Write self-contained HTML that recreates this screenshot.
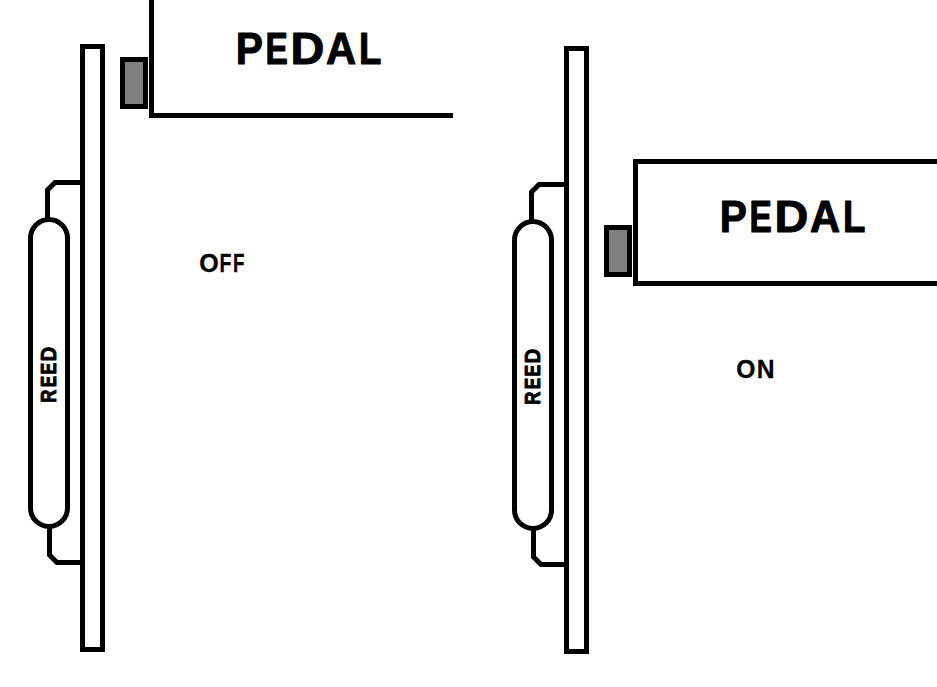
<!DOCTYPE html>
<html>
<head>
<meta charset="utf-8">
<style>
html,body{margin:0;padding:0;background:#fff;}
body{width:937px;height:687px;overflow:hidden;}
svg{display:block;}
text{font-family:"Liberation Sans", sans-serif;font-weight:bold;font-size:100px;fill:#000;stroke:#000;vector-effect:non-scaling-stroke;stroke-linejoin:round;}
</style>
</head>
<body>
<svg width="937" height="687" viewBox="0 0 937 687">
<defs>
<g id="bar">
<g fill="none" stroke="#000" stroke-width="5">
  <rect x="82.5" y="46.5" width="20" height="603"/>
  <rect x="30.5" y="219.5" width="37" height="307" rx="18.5" ry="18.5"/>
  <path d="M47.5,219.5 L47.5,190 L55,182.5 L80,182.5"/>
  <path d="M49.5,526.5 L49.5,555 L57,562.5 L80,562.5"/>
</g>
<text transform="matrix(0 -0.18274 0.21149 0 56.150 402.822)" stroke-width="0.8">R</text>
<text transform="matrix(0 -0.17111 0.21149 0 56.150 387.345)" stroke-width="0.8">E</text>
<text transform="matrix(0 -0.17646 0.21149 0 56.150 374.480)" stroke-width="0.8">E</text>
<text transform="matrix(0 -0.20545 0.21149 0 56.150 361.574)" stroke-width="0.8">D</text>
</g>
<g id="ped">
  <rect x="122.5" y="59.5" width="23" height="47" fill="#7f7f7f" stroke="#000" stroke-width="5"/>
<text transform="matrix(0.40642 0 0 0.45204 235.781 64.400)" stroke-width="1.0">P</text>
<text transform="matrix(0.33509 0 0 0.45204 265.458 64.400)" stroke-width="1.0">E</text>
<text transform="matrix(0.46797 0 0 0.45204 290.470 64.400)" stroke-width="1.0">D</text>
<text transform="matrix(0.41735 0 0 0.45204 325.961 64.400)" stroke-width="1.0">A</text>
<text transform="matrix(0.36634 0 0 0.45204 359.049 64.400)" stroke-width="1.0">L</text>
</g>
</defs>
<rect x="0" y="0" width="937" height="687" fill="#fff"/>
<!-- OFF -->
<use href="#bar"/>
<use href="#ped"/>
<rect x="149" y="0" width="5" height="118" fill="#000"/>
<rect x="149" y="113" width="304" height="5" fill="#000"/>
<text transform="matrix(0.25042 0 0 0.25141 199.323 271.504)" stroke-width="0.3">O</text>
<text transform="matrix(0.19514 0 0 0.25582 219.545 271.750)" stroke-width="0.3">F</text>
<text transform="matrix(0.18726 0 0 0.25582 233.097 271.750)" stroke-width="0.3">F</text>
<!-- ON -->
<use href="#bar" transform="translate(484,2)"/>
<use href="#ped" transform="translate(484,168)"/>
<g fill="#000">
  <rect x="633" y="159" width="5" height="127"/>
  <rect x="633" y="159" width="304" height="5"/>
  <rect x="633" y="281" width="304" height="5"/>
</g>
<text transform="matrix(0.24611 0 0 0.25141 736.341 377.504)" stroke-width="0.3">O</text>
<text transform="matrix(0.24664 0 0 0.25436 756.700 377.650)" stroke-width="0.3">N</text>
</svg>
</body>
</html>
